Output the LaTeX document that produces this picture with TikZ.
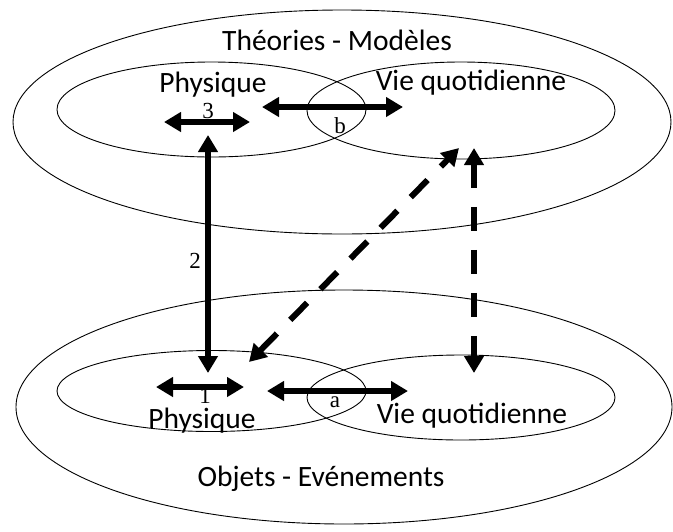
\documentclass[tikz,border=0pt]{standalone}
\usepackage{fontspec}
\setmainfont{Carlito}
\newfontfamily\numfont{Liberation Serif}
\usetikzlibrary{arrows.meta,shapes.geometric}
\tikzset{
  zone/.style={draw, ellipse, line width=0.9pt, inner sep=0pt},
  lab/.style={anchor=base, inner sep=0.5pt, font=\fontsize{29.5}{34}\selectfont},
  num/.style={anchor=base, inner sep=0.5pt, font=\numfont\fontsize{23}{27}\selectfont},
  bigarrow/.style={line width=6pt, {Triangle[length=17pt,width=19pt]}-{Triangle[length=17pt,width=19pt]}},
  dasharrow/.style={bigarrow, dash pattern=on 24pt off 19pt}
}
\begin{document}
\begin{tikzpicture}[x=1pt,y=-1pt]
\useasboundingbox (0,0) rectangle (673,531);
% top level
\node[zone, minimum width=658pt, minimum height=224pt] (outerT) at (342,122) {};
\node[zone, minimum width=309pt, minimum height=95pt] (physT) at (211.5,109.5) {};
\node[zone, minimum width=308pt, minimum height=97pt] (vieT) at (461,110.5) {};
% bottom level
\node[zone, minimum width=656pt, minimum height=234pt] (outerB) at (344,407) {};
\node[zone, minimum width=309pt, minimum height=81pt] (physB) at (211.5,391) {};
\node[zone, minimum width=308pt, minimum height=85pt] (vieB) at (461,397.5) {};
% texts
\node[lab] (tTM) at (337,50) {Théories - Modèles};
\node[lab] (tPT) at (213,92) {Physique};
\node[lab] (tVT) at (471,90) {Vie quotidienne};
\node[lab] (tPB) at (202,428) {Physique};
\node[lab] (tVB) at (472,423) {Vie quotidienne};
\node[lab] (tOE) at (321,486) {Objets - Evénements};
% arrow end points
\coordinate (a3l) at (164,122);
\coordinate (a3r) at (250,122);
\coordinate (abl) at (262,107);
\coordinate (abr) at (403,107);
\coordinate (a2t) at (208,135);
\coordinate (a2b) at (208,373);
\coordinate (a1l) at (156,387);
\coordinate (a1r) at (244,387);
\coordinate (aal) at (267,391);
\coordinate (aar) at (408,391);
\coordinate (ddl) at (249,362);
\coordinate (ddu) at (459,148);
\coordinate (dvt) at (474,148);
\coordinate (dvb) at (474,373);
% arrows
\draw[bigarrow] (a3l) -- (a3r);
\draw[bigarrow] (abl) -- (abr);
\draw[bigarrow] (a2t) -- (a2b);
\draw[bigarrow] (a1l) -- (a1r);
\draw[bigarrow] (aal) -- (aar);
\draw[dasharrow] (ddl) -- (ddu);
\draw[dasharrow] (dvt) -- (dvb);
% number labels
\node[num] (n3) at (208,118) {3};
\node[num] (nb) at (340,133) {b};
\node[num] (n2) at (195,268) {2};
\node[num] (n1) at (205,403) {1};
\node[num] (na) at (335,407) {a};
\end{tikzpicture}
\end{document}
